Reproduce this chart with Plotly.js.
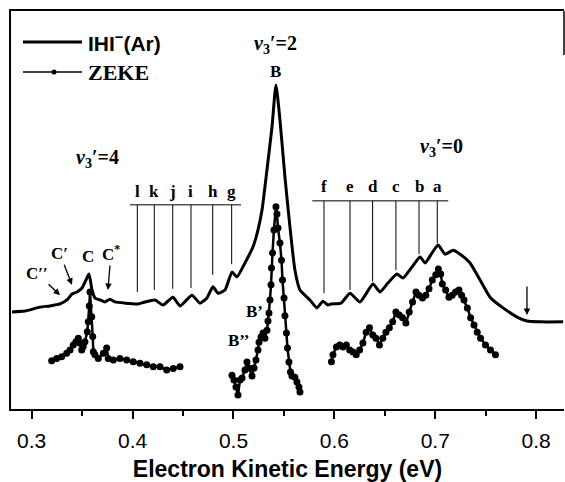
<!DOCTYPE html>
<html><head><meta charset="utf-8">
<script src="https://cdn.plot.ly/plotly-3.0.1.min.js"></script>
<style>html,body{margin:0;padding:0;background:#fff;}#chart{width:565px;height:482px;}</style>
</head><body><div id="chart"></div>
<script>
// Photoelectron spectrum IHI-(Ar): energy (eV) and intensity (arb. units)
const pesE = [0.2805,0.2934,0.3082,0.3181,0.3281,0.3350,0.3400,0.3449,0.3499,0.3538,0.3568,0.3598,0.3627,0.3677,0.3726,0.3776,0.3826,0.3925,0.4054,0.4123,0.4222,0.4301,0.4400,0.4470,0.4589,0.4668,0.4737,0.4797,0.4846,0.4916,0.4985,0.5035,0.5114,0.5193,0.5243,0.5283,0.5332,0.5382,0.5421,0.5461,0.5510,0.5560,0.5609,0.5659,0.5758,0.5827,0.5887,0.5937,0.5967,0.6066,0.6155,0.6254,0.6383,0.6452,0.6532,0.6621,0.6681,0.6770,0.6849,0.6899,0.6968,0.7028,0.7098,0.7177,0.7246,0.7345,0.7444,0.7543,0.7672,0.7811,0.7910,0.8039,0.8267];
const pesI = [24.4,24.6,25.6,25.9,26.4,27.4,28.9,29.4,30.4,32.4,33.9,29.9,27.9,27.4,26.9,27.6,26.9,26.6,26.4,26.9,27.4,26.1,28.1,25.9,28.6,26.6,27.9,30.7,29.1,29.9,34.4,33.2,36.7,40.7,45.0,50.0,60.1,70.9,81.4,72.6,58.3,45.7,34.9,29.9,27.4,25.4,27.1,26.1,26.4,26.6,29.1,26.9,31.4,29.4,31.7,33.9,32.9,35.7,38.2,36.7,39.2,41.2,38.9,39.9,38.9,36.7,32.4,28.1,25.4,23.1,22.1,21.9,21.9];

// ZEKE spectrum, three scanned regions
const zeke1E = [0.3198,0.3248,0.3297,0.3347,0.3380,0.3412,0.3439,0.3462,0.3479,0.3496,0.3511,0.3528,0.3551,0.3561,0.3571,0.3578,0.3595,0.3605,0.3611,0.3627,0.3660,0.3710,0.3743,0.3759,0.3809,0.3875,0.3942,0.4007,0.4073,0.4140,0.4205,0.4272,0.4338,0.4403,0.4470];
const zeke1I = [12.1,12.7,13.1,14.0,14.8,16.1,16.9,17.8,16.5,14.8,15.7,16.9,19.4,21.9,25.9,29.4,23.2,18.2,14.4,13.6,12.7,14.0,15.3,12.7,12.3,12.7,12.3,11.9,11.5,11.1,10.6,10.6,9.8,10.2,10.6];
const zeke2E = [0.4985,0.5005,0.5025,0.5045,0.5065,0.5085,0.5114,0.5134,0.5154,0.5184,0.5204,0.5223,0.5243,0.5253,0.5273,0.5293,0.5312,0.5332,0.5342,0.5352,0.5362,0.5372,0.5377,0.5387,0.5401,0.5421,0.5431,0.5441,0.5461,0.5476,0.5486,0.5501,0.5510,0.5525,0.5535,0.5550,0.5565,0.5580,0.5609,0.5629,0.5649,0.5659];
const zeke2I = [8.5,7.3,5.5,3.5,7.3,7.8,9.8,11.8,10.3,8.3,10.3,12.3,14.8,16.8,18.1,19.1,17.8,19.8,22.1,24.1,27.4,31.2,35.4,39.2,45.0,50.8,49.0,45.5,41.7,37.4,32.4,27.9,23.4,19.1,15.3,11.8,9.3,8.3,8.0,6.8,5.5,4.3];
const zeke3E = [0.5971,0.5986,0.6020,0.6053,0.6085,0.6119,0.6152,0.6184,0.6217,0.6250,0.6283,0.6315,0.6348,0.6381,0.6412,0.6447,0.6480,0.6511,0.6545,0.6578,0.6610,0.6643,0.6676,0.6709,0.6742,0.6775,0.6809,0.6838,0.6873,0.6906,0.6938,0.6971,0.7005,0.7031,0.7054,0.7070,0.7103,0.7136,0.7168,0.7201,0.7235,0.7261,0.7285,0.7318,0.7351,0.7384,0.7416,0.7449,0.7498,0.7547,0.7597];
const zeke3I = [11.9,13.6,15.6,16.1,15.6,16.1,14.8,14.3,13.6,14.8,16.6,19.3,20.4,18.6,17.8,16.1,17.8,19.3,20.4,21.9,24.4,23.6,22.9,21.6,24.4,26.9,29.4,28.6,27.9,28.6,30.2,32.4,33.7,35.2,33.9,31.4,29.9,28.1,28.6,29.4,29.9,28.6,27.4,25.4,22.9,21.1,19.3,17.8,16.1,14.8,13.6];

// Assignment combs
const combLeftLabels = ['l','k','j','i','h','g'];
const combLeftE = [0.4047,0.4215,0.4398,0.4579,0.4794,0.4982];
const combLeftTip = [29.4,29.9,30.2,30.4,33.7,36.4];
const combRightLabels = ['f','e','d','c','b','a'];
const combRightE = [0.5897,0.6155,0.6379,0.6610,0.6839,0.7020];
const combRightTip = [29.1,29.9,32.0,34.9,38.9,41.6];

const tickVals = [0.3,0.4,0.5,0.6,0.7,0.8];
const tickText = ['0.3','0.4','0.5','0.6','0.7','0.8'];

const serif = 'Liberation Serif, Times New Roman, serif';
const sans = 'Liberation Sans, Arial, sans-serif';

const zekeStyle = {mode:'lines+markers', line:{color:'#000', width:2.5}, marker:{color:'#000', size:7}, showlegend:false, hoverinfo:'skip'};
const traces = [
  {x:pesE, y:pesI, mode:'lines', line:{color:'#000', width:3, shape:'spline', smoothing:0.5}, name:'IHI⁻(Ar)', showlegend:false},
  Object.assign({x:zeke1E, y:zeke1I, name:'ZEKE'}, zekeStyle),
  Object.assign({x:zeke2E, y:zeke2I, name:'ZEKE'}, zekeStyle),
  Object.assign({x:zeke3E, y:zeke3I, name:'ZEKE'}, zekeStyle)
];

const shapes = [];
const annotations = [];
function comb(E, tip, labels, barY, labY, x0, x1) {
  shapes.push({type:'line', xref:'x', yref:'y', x0:x0, x1:x1, y0:barY, y1:barY, line:{color:'#000', width:1}});
  E.forEach((e,i)=>{
    shapes.push({type:'line', xref:'x', yref:'y', x0:e, x1:e, y0:barY, y1:tip[i], line:{color:'#000', width:1}});
    annotations.push({x:e, y:labY, xref:'x', yref:'y', text:'<b>'+labels[i]+'</b>', showarrow:false, font:{family:serif, size:17, color:'#000'}});
  });
}
comb(combLeftE, combLeftTip, combLeftLabels, 51.3, 54.6, 0.3974, 0.5075);
comb(combRightE, combRightTip, combRightLabels, 52.3, 55.8, 0.5781, 0.7129);

function txt(x, y, t, size, extra) {
  annotations.push(Object.assign({x:x, y:y, xref:'x', yref:'y', text:t, showarrow:false, font:{family:serif, size:size, color:'#000'}}, extra||{}));
}
txt(0.3648, 63.0, '<b><i>v</i><sub>3</sub>′=4</b>', 20);
txt(0.5421, 91.7, '<b><i>v</i><sub>3</sub>′=2</b>', 20);
txt(0.7060, 65.8, '<b><i>v</i><sub>3</sub>′=0</b>', 20);
txt(0.5421, 84.7, '<b>B</b>', 17);
txt(0.5204, 24.4, '<b>B’</b>', 17);
txt(0.5045, 17.1, '<b>B’’</b>', 17);
txt(0.3558, 38.2, '<b>C</b>', 17);
const arrowStyle = {showarrow:true, arrowhead:2, arrowsize:1, arrowwidth:1.3, arrowcolor:'#000'};
txt(0.3281, 28.6, '<b>C′′</b>', 17, Object.assign({ax:-23, ay:-22}, arrowStyle));
txt(0.3399, 31.2, '<b>C′</b>', 17, Object.assign({ax:-12, ay:-31}, arrowStyle));
txt(0.3756, 29.9, '<b>C<sup>*</sup></b>', 17, Object.assign({ax:3, ay:-37}, arrowStyle));
txt(0.7909, 23.6, '', 17, Object.assign({ax:0, ay:-30}, arrowStyle));

// custom legend (paper coordinates)
const W = 553, H = 398;
function px(x){return (x-11)/W;} function py(y){return (409-y)/H;}
shapes.push({type:'line', xref:'paper', yref:'paper', x0:px(23), x1:px(82), y0:py(42), y1:py(42), line:{color:'#000', width:3}});
shapes.push({type:'line', xref:'paper', yref:'paper', x0:px(23), x1:px(82), y0:py(72), y1:py(72), line:{color:'#000', width:1.5}});
shapes.push({type:'circle', xref:'paper', yref:'paper', x0:px(51.5), x1:px(56.5), y0:py(69.5), y1:py(74.5), fillcolor:'#000', line:{color:'#000', width:0}});
annotations.push({xref:'paper', yref:'paper', x:px(86), y:py(42), xanchor:'left', yanchor:'middle', text:'<b>IHI<sup>−</sup>(Ar)</b>', showarrow:false, font:{family:sans, size:21, color:'#000'}});
annotations.push({xref:'paper', yref:'paper', x:px(86), y:py(72), xanchor:'left', yanchor:'middle', text:'<b>ZEKE</b>', showarrow:false, font:{family:serif, size:22, color:'#000'}});
// partial right frame edge
shapes.push({type:'line', xref:'paper', yref:'paper', x0:1, x1:1, y0:1, y1:py(55), line:{color:'#000', width:1.5}});

const layout = {
  width:565, height:482,
  margin:{l:11, r:1, t:11, b:73},
  paper_bgcolor:'#fff', plot_bgcolor:'#fff',
  showlegend:false,
  xaxis:{range:[0.2795,0.8276], tickvals:tickVals, ticktext:tickText, ticks:'outside', ticklen:8, tickwidth:2, tickcolor:'#000',
    minor:{dtick:0.05, tick0:0.3, ticks:'outside', ticklen:5, tickwidth:2, tickcolor:'#000'},
    showline:true, linecolor:'#000', linewidth:2, mirror:true, showgrid:false, zeroline:false,
    tickfont:{family:sans, size:21, color:'#000'}, ticklabelstandoff:4,
    title:{text:'<b>Electron Kinetic Energy (eV)</b>', font:{family:sans, size:23, color:'#000'}, standoff:10}},
  yaxis:{range:[0,100], showticklabels:false, ticks:'', showline:true, linecolor:'#000', linewidth:2, showgrid:false, zeroline:false},
  shapes:shapes, annotations:annotations
};
Plotly.newPlot('chart', traces, layout, {staticPlot:true, displayModeBar:false});
</script></body></html>
